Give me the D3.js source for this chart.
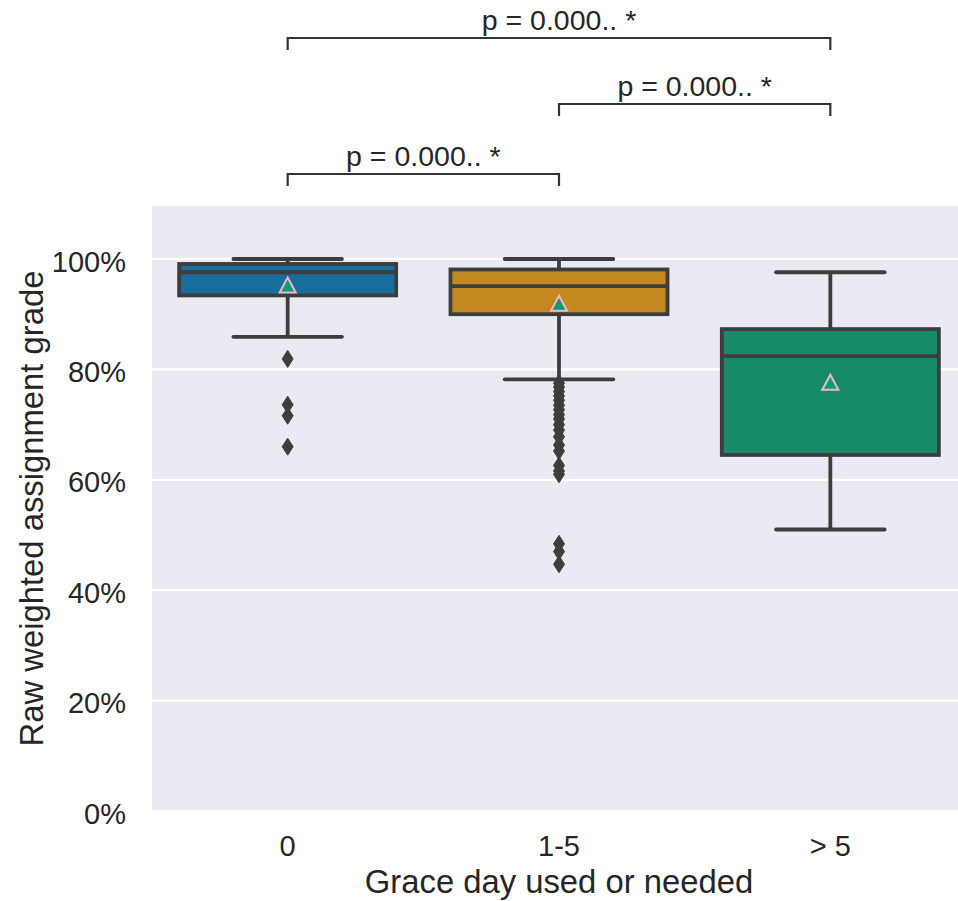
<!DOCTYPE html>
<html>
<head>
<meta charset="utf-8">
<script src="https://cdn.jsdelivr.net/npm/d3@7"></script>
<style>
  html, body { margin: 0; padding: 0; background: #ffffff; }
  svg { display: block; }
  text { font-family: "Liberation Sans", Arial, sans-serif; fill: #262626; }
</style>
</head>
<body>
<svg id="chart" width="958" height="901"></svg>
<script>
// Grade distribution per grace-day group
const categories = ["0", "1-5", "> 5"];
const whiskerLow  = [0.859, 0.782, 0.510];
const quartile1   = [0.934, 0.900, 0.645];
const medians     = [0.976, 0.951, 0.824];
const quartile3   = [0.991, 0.981, 0.873];
const whiskerHigh = [1.000, 1.000, 0.976];
const means       = [0.951, 0.918, 0.775];
const outliers0   = [0.819, 0.736, 0.716, 0.660];
const outliers15  = [0.775, 0.768, 0.760, 0.752, 0.744, 0.735, 0.727, 0.718, 0.710,
                     0.700, 0.690, 0.678, 0.663, 0.652, 0.626, 0.616, 0.610,
                     0.484, 0.470, 0.447];
const outliers5   = [];
const yTicks = [0, 0.2, 0.4, 0.6, 0.8, 1.0];
const boxColors = ["#176d9c", "#c38820", "#168b6a"];

// Pairwise test annotations
const pairA = ["0", "1-5", "0"];
const pairB = ["1-5", "> 5", "> 5"];
const pairLabels = ["p = 0.000.. *", "p = 0.000.. *", "p = 0.000.. *"];

const outlierSets = [outliers0, outliers15, outliers5];
const svg = d3.select("#chart");

const plot = { left: 152, right: 966, top: 206, bottom: 811 };
const x = d3.scaleBand().domain(categories).range([plot.left, plot.right]).paddingInner(0).paddingOuter(0);
const y = d3.scaleLinear().domain([0, 1.096]).range([plot.bottom, plot.top]);

svg.append("clipPath").attr("id", "plotclip")
  .append("rect").attr("x", plot.left).attr("y", plot.top)
  .attr("width", plot.right - plot.left).attr("height", plot.bottom - plot.top);

// Background panel
svg.append("rect")
  .attr("x", plot.left).attr("y", plot.top)
  .attr("width", plot.right - plot.left).attr("height", plot.bottom - plot.top)
  .attr("fill", "#eaeaf2");

// Horizontal grid
svg.append("g").selectAll("line").data(yTicks).join("line")
  .attr("x1", plot.left).attr("x2", plot.right)
  .attr("y1", d => y(d)).attr("y2", d => y(d))
  .attr("stroke", "#ffffff").attr("stroke-width", 2.2);

// Y axis tick labels
const yAxis = d3.axisLeft(y).tickValues(yTicks).tickFormat(d3.format(".0%")).tickSize(0).tickPadding(26);
const gy = svg.append("g").attr("transform", `translate(${plot.left},0)`).call(yAxis);
gy.select(".domain").remove();
gy.selectAll("text").attr("font-size", 29).attr("fill", "#262626").attr("dy", "0.42em")
  .style("font-family", '"Liberation Sans", Arial, sans-serif');

// X axis tick labels
const xAxis = d3.axisBottom(x).tickSize(0).tickPadding(24);
const gx = svg.append("g").attr("transform", `translate(0,${plot.bottom})`).call(xAxis);
gx.select(".domain").remove();
gx.selectAll("text").attr("font-size", 29).attr("fill", "#262626")
  .style("font-family", '"Liberation Sans", Arial, sans-serif');

// Axis titles
svg.append("text")
  .attr("x", (plot.left + plot.right) / 2)
  .attr("y", 893)
  .attr("text-anchor", "middle").attr("font-size", 32.8)
  .text("Grace day used or needed");

svg.append("text")
  .attr("transform", `translate(43,${(plot.top + plot.bottom) / 2}) rotate(-90)`)
  .attr("text-anchor", "middle").attr("font-size", 32.8)
  .text("Raw weighted assignment grade");

// Boxes
const edge = "#3d3d3d";
const lw = 3.8;
const bw = x.bandwidth() * 0.8;
const g = svg.append("g").attr("clip-path", "url(#plotclip)");

categories.forEach((c, i) => {
  const cx = x(c) + x.bandwidth() / 2;
  // whiskers
  g.append("line").attr("x1", cx).attr("x2", cx)
    .attr("y1", y(quartile3[i])).attr("y2", y(whiskerHigh[i]))
    .attr("stroke", edge).attr("stroke-width", lw);
  g.append("line").attr("x1", cx).attr("x2", cx)
    .attr("y1", y(quartile1[i])).attr("y2", y(whiskerLow[i]))
    .attr("stroke", edge).attr("stroke-width", lw);
  // caps
  [whiskerHigh[i], whiskerLow[i]].forEach(v => {
    g.append("line").attr("x1", cx - bw / 4).attr("x2", cx + bw / 4)
      .attr("y1", y(v)).attr("y2", y(v))
      .attr("stroke", edge).attr("stroke-width", lw).attr("stroke-linecap", "round");
  });
  // box
  g.append("rect")
    .attr("x", cx - bw / 2).attr("width", bw)
    .attr("y", y(quartile3[i])).attr("height", y(quartile1[i]) - y(quartile3[i]))
    .attr("fill", boxColors[i]).attr("stroke", edge).attr("stroke-width", lw);
  // median
  g.append("line").attr("x1", cx - bw / 2).attr("x2", cx + bw / 2)
    .attr("y1", y(medians[i])).attr("y2", y(medians[i]))
    .attr("stroke", edge).attr("stroke-width", lw);
  // outliers (thin diamonds)
  g.append("g").selectAll("path").data(outlierSets[i]).join("path")
    .attr("d", d => {
      const py = y(d);
      return `M${cx},${py - 8.5}L${cx + 5.5},${py}L${cx},${py + 8.5}L${cx - 5.5},${py}Z`;
    })
    .attr("fill", edge).attr("stroke", edge).attr("stroke-width", 1);
  // mean marker
  const my = y(means[i]);
  g.append("path")
    .attr("d", `M${cx},${my - 8.5}L${cx + 8},${my + 6.5}L${cx - 8},${my + 6.5}Z`)
    .attr("fill", "#029e73").attr("stroke", "#f7b6c8").attr("stroke-width", 2)
    .attr("stroke-linejoin", "miter");
});

// Significance brackets
const levelLine = [174, 104, 38];
const tickLen = 12;
pairLabels.forEach((lab, k) => {
  const xa = x(pairA[k]) + x.bandwidth() / 2;
  const xb = x(pairB[k]) + x.bandwidth() / 2;
  const ly = levelLine[k];
  svg.append("path")
    .attr("d", `M${xa},${ly + tickLen}L${xa},${ly}L${xb},${ly}L${xb},${ly + tickLen}`)
    .attr("fill", "none").attr("stroke", "#333333").attr("stroke-width", 2.2);
  svg.append("text")
    .attr("x", (xa + xb) / 2).attr("y", ly - 8)
    .attr("text-anchor", "middle").attr("font-size", 28.5)
    .text(lab);
});
</script>
</body>
</html>
